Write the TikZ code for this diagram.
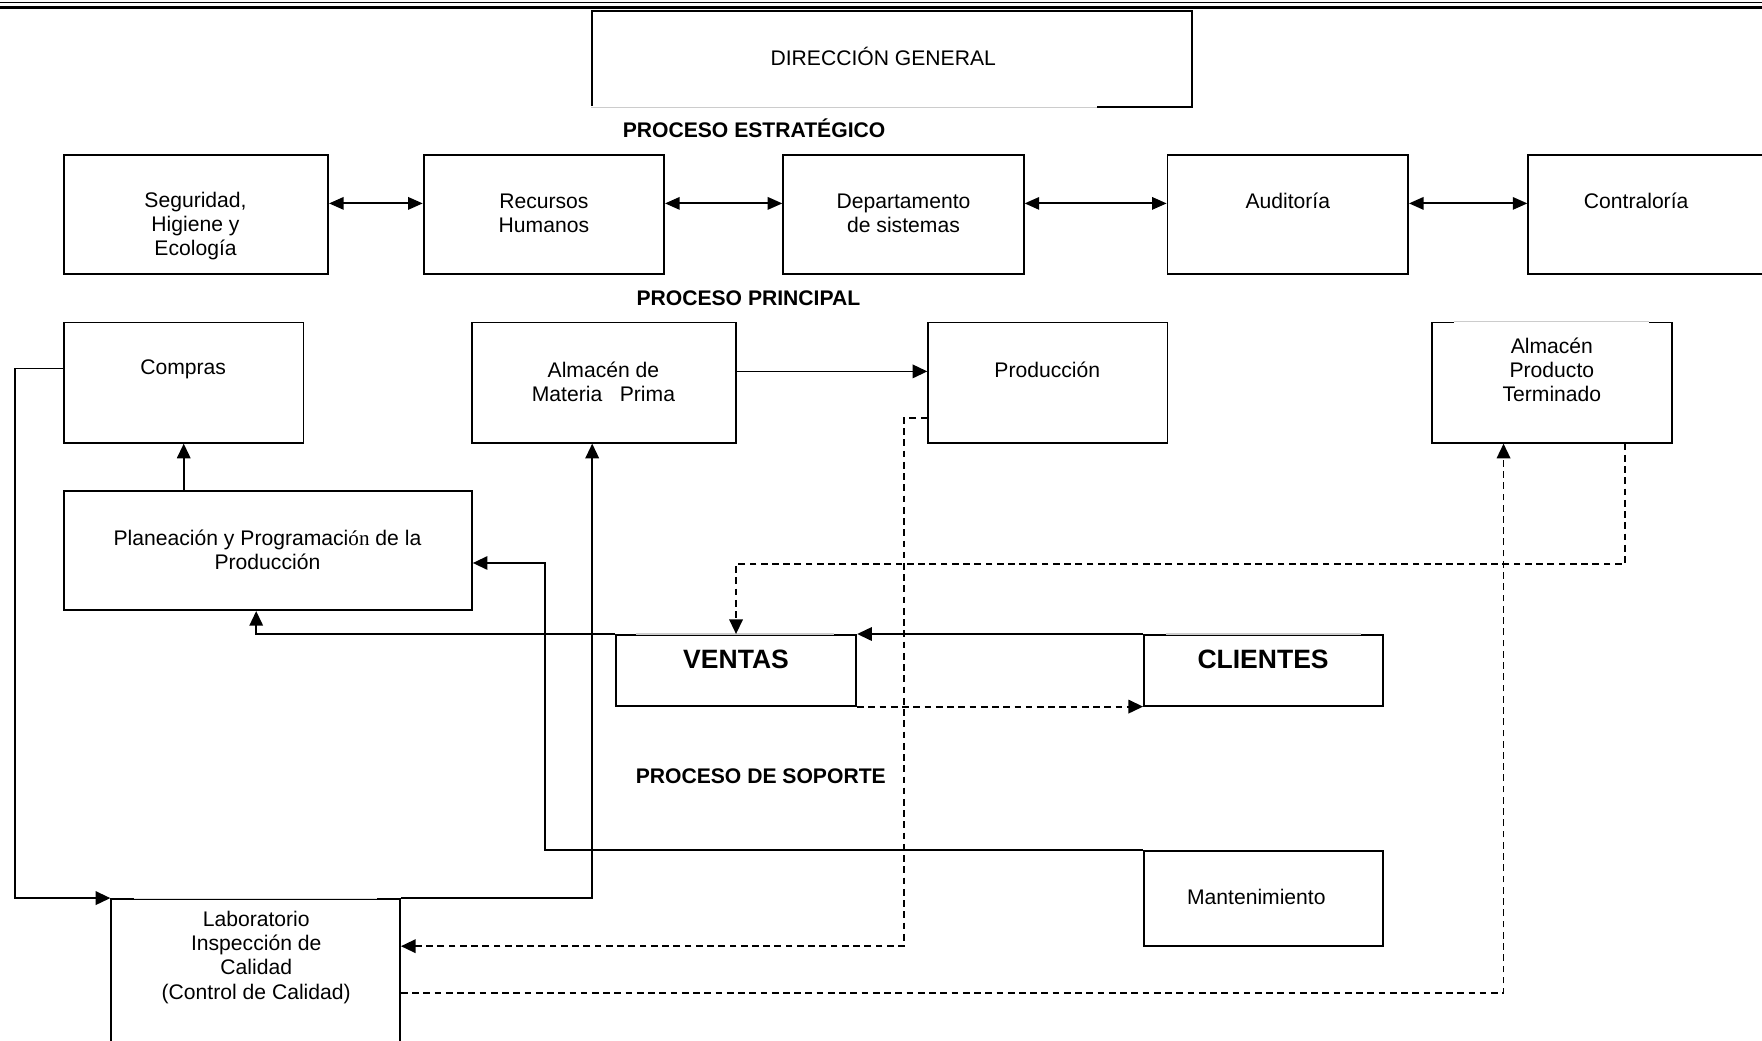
\documentclass[tikz,border=0pt]{standalone}
\usepackage{fontspec}
\setmainfont{Liberation Sans}
\newfontfamily\serifpart{Liberation Serif}
\usetikzlibrary{arrows.meta}
\begin{document}
\begin{tikzpicture}[x=1pt,y=-1pt,
  boxst/.style={draw, line width=1.6pt, inner sep=0pt},
  txt/.style={inner sep=0pt, align=center, font=\fontsize{18.8}{21.5}\selectfont},
  hdr/.style={inner sep=0pt, font=\fontsize{18.8}{21.5}\selectfont\bfseries},
  big/.style={inner sep=0pt, font=\fontsize{23.6}{26}\selectfont\bfseries},
  tip/.style={-{Triangle[length=13pt,width=12pt]}},
  dtip/.style={{Triangle[length=13pt,width=11pt]}-{Triangle[length=13pt,width=11pt]}},
  conn/.style={line width=1.5pt},
  dconn/.style={line width=1.6pt, dash pattern=on 6pt off 4pt},
  fade/.style={gray!40, line width=1pt},
  erase/.style={white, line width=2.2pt}]
\useasboundingbox (0,0) rectangle (1568,926);
\begin{scope}
\clip (0,0) rectangle (1568,926);
% header rule
\draw[line width=1pt] (0,2.5) -- (1568,2.5);
\draw[line width=2.5pt] (0,6.5) -- (1568,6.5);

% boxes
\node[boxst, minimum width=534pt, minimum height=85pt] (dir) at (794,52.5) {};
\node[txt] (dirt) at (786,50) {DIRECCIÓN GENERAL};
\node[hdr] (h1) at (671,114) {PROCESO ESTRATÉGICO};

\node[boxst, minimum width=235pt, minimum height=106pt] (seg) at (174.5,191) {};
\node[txt] (segt) at (174,201) {Seguridad,\\Higiene y\\Ecología};
\node[boxst, minimum width=214pt, minimum height=106pt] (rec) at (484,191) {};
\node[txt] (rect) at (484,190) {Recursos\\Humanos};
\node[boxst, minimum width=214pt, minimum height=106pt] (dep) at (804,191) {};
\node[txt] (dept) at (804,190) {Departamento\\de sistemas};
\node[boxst, minimum width=214pt, minimum height=106pt] (aud) at (1146,191) {};
\node[txt] (audt) at (1146,179) {Auditoría};
\node[boxst, minimum width=216pt, minimum height=106pt] (con) at (1468,191) {};
\node[txt] (cont) at (1456,179) {Contraloría};

\node[hdr] (h2) at (666,265) {PROCESO PRINCIPAL};

\node[boxst, minimum width=213pt, minimum height=107pt] (com) at (163.5,340.5) {};
\node[txt] (comt) at (163,329) {Compras};
\node[boxst, minimum width=235pt, minimum height=107pt] (amp) at (537.5,340.5) {};
\node[txt] (ampt) at (537,340) {Almacén de\\Materia\ \ \ Prima};
\node[boxst, minimum width=213pt, minimum height=107pt] (pro) at (932.5,340.5) {};
\node[txt] (prot) at (932,329) {Producción};
\node[boxst, minimum width=214pt, minimum height=107pt] (apt) at (1381,340.5) {};
\node[txt] (aptt) at (1381,329) {Almacén\\Producto\\Terminado};

\node[boxst, minimum width=363pt, minimum height=106pt] (pla) at (238.5,490) {};
\node[txt] (plat) at (238,489) {Planeación y Programaci{\serifpart ón} de la\\Producción};

\node[boxst, minimum width=214pt, minimum height=63pt] (ven) at (655,596.5) {};
\node[big] (vent) at (655,587) {VENTAS};
\node[boxst, minimum width=213pt, minimum height=63pt] (cli) at (1124.5,596.5) {};
\node[big] (clit) at (1124,587) {CLIENTES};

\node[hdr] (h3) at (677,691) {PROCESO DE SOPORTE};

\node[boxst, minimum width=213pt, minimum height=85pt] (man) at (1124.5,799.5) {};
\node[txt] (mant) at (1118,798) {Mantenimiento};
\node[boxst, minimum width=257pt, minimum height=160pt] (lab) at (227.5,880) {};
\node[txt] (labt) at (228,852) {Laboratorio\\Inspección de\\Calidad\\(Control de Calidad)};

% faded edge segments
\draw[erase] (dir.south west) -- ([xshift=-86pt]dir.south east);
\draw[fade] (dir.south west) -- ([xshift=-86pt]dir.south east);
\draw[erase] ([xshift=21pt]apt.north west) -- ([xshift=-21pt]apt.north east);
\draw[fade] ([xshift=21pt]apt.north west) -- ([xshift=-21pt]apt.north east);
\draw[erase] ([xshift=19pt]ven.north west) -- ([xshift=-21pt]ven.north east);
\draw[fade] ([xshift=19pt]ven.north west) -- ([xshift=-21pt]ven.north east);
\draw[erase] ([xshift=20pt]cli.north west) -- ([xshift=-21pt]cli.north east);
\draw[fade] ([xshift=20pt]cli.north west) -- ([xshift=-21pt]cli.north east);
\draw[erase] ([xshift=21pt]lab.north west) -- ([xshift=-21pt]lab.north east);
\draw[fade, gray!25] ([xshift=21pt]lab.north west) -- ([xshift=-21pt]lab.north east);

% strategic row arrows
\draw[conn, line width=1.8pt, dtip] ([yshift=10pt]seg.east) -- ([yshift=10pt]rec.west);
\draw[conn, line width=1.8pt, dtip] ([yshift=10pt]rec.east) -- ([yshift=10pt]dep.west);
\draw[conn, line width=1.8pt, dtip] ([yshift=10pt]dep.east) -- ([yshift=10pt]aud.west);
\draw[conn, line width=1.8pt, dtip] ([yshift=10pt]aud.east) -- ([yshift=10pt]con.west);

% main process connectors
\draw[conn, tip] (pla.north -| com.south) -- (com.south);
\draw[conn, tip] ([yshift=10pt]amp.east) -- ([yshift=10pt]pro.west);
\draw[conn, tip] (ven.north west) -| ([xshift=-10.5pt]pla.south);
\draw[conn, tip] (cli.north west) -- (ven.north east);
\draw[dconn, tip] (ven.south east) -- (cli.south west);
\draw[conn, tip] (man.north west) -| ([xshift=64pt,yshift=-11pt]pla.east) -- ([yshift=-11pt]pla.east);
\draw[conn, tip] ([yshift=12.5pt]com.west) -- ++(-43,0) |- (lab.north west);
\draw[conn, tip] (lab.north east) -| ([xshift=-10.5pt]amp.south);
\draw[dconn, tip] ([yshift=-31.5pt]pro.west) -- ++(-21,0) |- ([yshift=38pt]lab.east);
\draw[dconn, tip] ([yshift=-4pt]lab.east) -| ([xshift=-43pt]apt.south);
\draw[dconn, tip] ([xshift=65pt]apt.south) -- ++(0,107) -| (ven.north);
\end{scope}
\end{tikzpicture}
\end{document}
